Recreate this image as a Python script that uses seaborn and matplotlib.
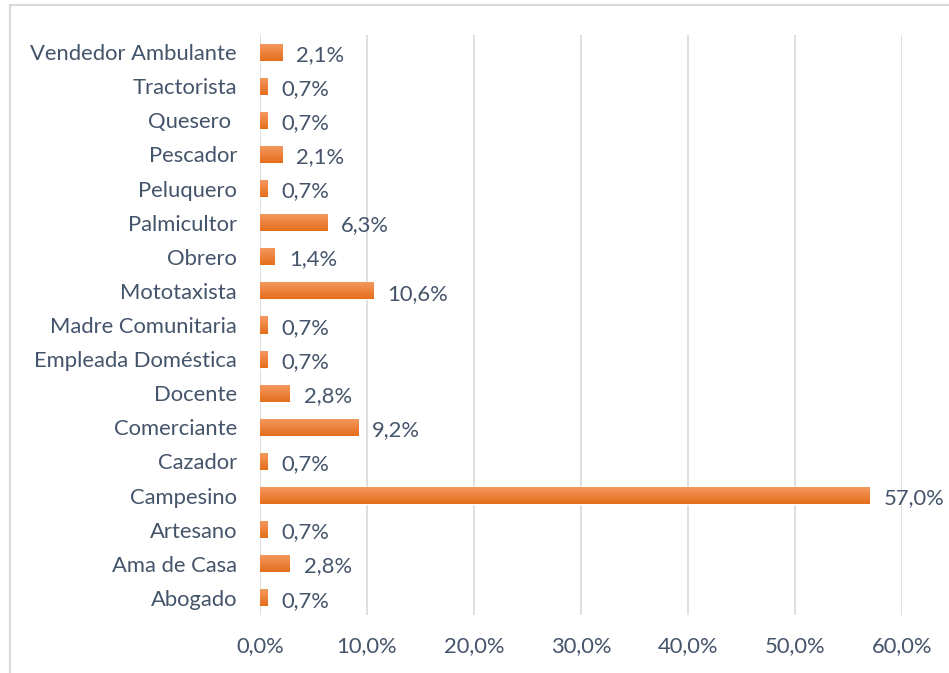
import numpy as np
import pandas as pd
import matplotlib
matplotlib.use("Agg")
import matplotlib.pyplot as plt
import seaborn as sns
from matplotlib.patches import Rectangle
from matplotlib.colors import LinearSegmentedColormap

categories = ["Vendedor Ambulante", "Tractorista", "Quesero ", "Pescador", "Peluquero",
              "Palmicultor", "Obrero", "Mototaxista", "Madre Comunitaria",
              "Empleada Doméstica", "Docente", "Comerciante", "Cazador", "Campesino",
              "Artesano", "Ama de Casa", "Abogado"]
values = [2.1, 0.7, 0.7, 2.1, 0.7, 6.3, 1.4, 10.6, 0.7, 0.7, 2.8, 9.2, 0.7, 57.0, 0.7, 2.8, 0.7]
xticks = [0, 10, 20, 30, 40, 50, 60]

df = pd.DataFrame({"cat": categories, "val": values})

sns.set_style("white")
plt.rcParams['font.family'] = ['Lato', 'DejaVu Sans']
txt = "#44546A"
fs = 15.8

fig = plt.figure(figsize=(9.49, 6.73), dpi=100)
ax = fig.add_axes([260/949, 1-615/673, (902-260)/949, (615-35)/673])

sns.barplot(data=df, x="val", y="cat", orient="h", color="#ED7D31", width=0.5,
            ax=ax, zorder=3, saturation=1)

# gradient fill inside bars (lighter top, darker bottom)
cmap = LinearSegmentedColormap.from_list("g", ["#F59A62", "#E56E1C"])
grad = np.linspace(0, 1, 64).reshape(-1, 1)
for p in ax.patches:
    x0, y0 = p.get_x(), p.get_y()
    w, h = p.get_width(), p.get_height()
    im = ax.imshow(grad, cmap=cmap, aspect="auto", extent=[x0, x0 + w, y0 + h, y0],
                   origin="upper", zorder=4, interpolation="bilinear")
    im.set_clip_path(p)
    p.set_facecolor("none")

ax.set_xlim(0, 60)
ax.set_ylim(len(categories) - 0.5, -0.5)
ax.set_xticks(xticks)
ax.set_xticklabels([f"{t:.1f}%".replace(".", ",") for t in xticks])
ax.xaxis.grid(True, color="#D9D9D9", linewidth=1.2, zorder=0)
ax.set_axisbelow(True)
for s in ax.spines.values():
    s.set_visible(False)
ax.set_xlabel("")
ax.set_ylabel("")
ax.tick_params(axis="y", length=0, pad=16.5, labelsize=fs, labelcolor=txt)
ax.tick_params(axis="x", length=0, pad=15, labelsize=fs, labelcolor=txt)

for i, v in enumerate(values):
    ax.text(v + 1.3, i + 0.08, f"{v:.1f}%".replace(".", ","), va="center", ha="left",
            fontsize=fs, color=txt, zorder=5)

# outer border (cropped chart frame)
fig.add_artist(Rectangle((10/949, -0.1), 1.2, 1 - 5/673 + 0.1, transform=fig.transFigure,
                         fill=False, edgecolor="#D9D9D9", linewidth=1.5))

fig.savefig("out.png", dpi=100)
